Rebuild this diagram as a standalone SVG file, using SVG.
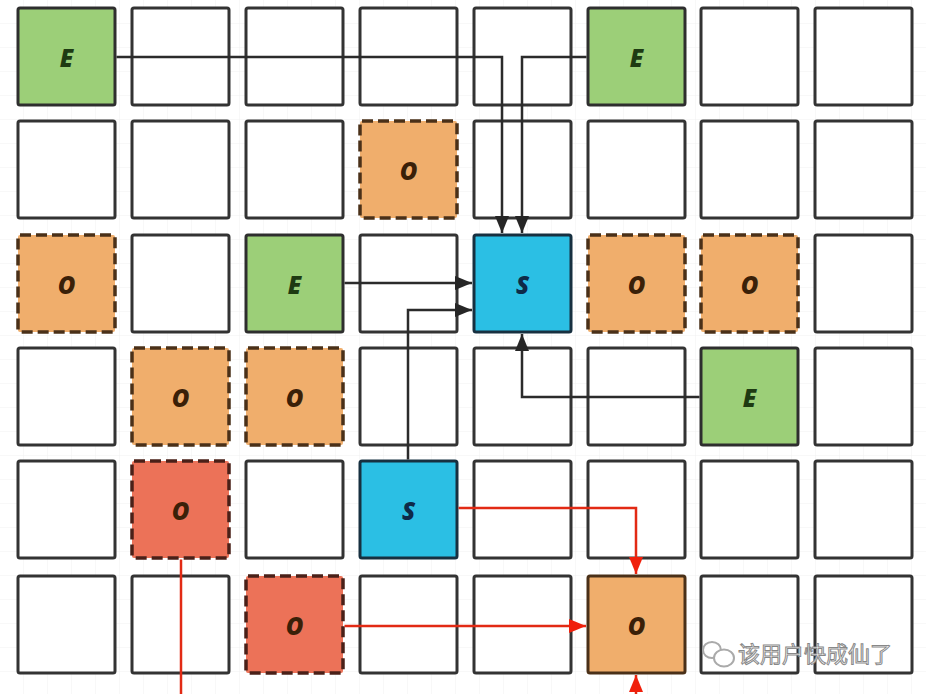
<svg xmlns="http://www.w3.org/2000/svg" width="926" height="694" viewBox="0 0 926 694">
<defs>
<pattern id="bg" width="24" height="24" patternUnits="userSpaceOnUse">
<path d="M24 0V24H0" fill="none" stroke="#f0f0f0" stroke-width="1"/>
</pattern>
<marker id="ab" markerUnits="userSpaceOnUse" markerWidth="18" markerHeight="18" viewBox="0 0 18 18" refX="17" refY="9" orient="auto">
<path d="M0 2L17 9L0 16Z" fill="#262626"/>
</marker>
<marker id="ar" markerUnits="userSpaceOnUse" markerWidth="18" markerHeight="18" viewBox="0 0 18 18" refX="17" refY="9" orient="auto">
<path d="M0 2L17 9L0 16Z" fill="#f0200c"/>
</marker>
</defs>
<style>
.c{fill:#fff;stroke:#333;stroke-width:3}
.g{fill:#9ccf78;stroke:#2e2e2e;stroke-width:3}
.b{fill:#2bbfe4;stroke:#173040;stroke-width:3}
.o{fill:#f0ae6c;stroke:#4a3018;stroke-width:3.5;stroke-dasharray:11 5}
.os{fill:#f0ae6c;stroke:#4a3018;stroke-width:3}
.r{fill:#ec7258;stroke:#4a2018;stroke-width:3.5;stroke-dasharray:11 5}
text.l{font-family:"Open Sans","DejaVu Sans",sans-serif;font-weight:800;font-style:italic;font-size:24px;text-anchor:middle;dominant-baseline:central}
.te{fill:#1e3a12}.ts{fill:#0e2a48}.to{fill:#3a2008}
.k{fill:none;stroke:#2b2b2b;stroke-width:2.5}
.kr{fill:none;stroke:#e22a14;stroke-width:2.5}
</style>
<rect width="926" height="694" fill="#fff"/>
<rect width="926" height="694" fill="url(#bg)"/>
<g id="cells">
<g id="r0c0"><rect class="g" x="18" y="8" width="97" height="97" rx="2"/><text class="l te" x="66.5" y="57">E</text></g>
<g id="r0c1"><rect class="c" x="132" y="8" width="97" height="97" rx="2"/></g>
<g id="r0c2"><rect class="c" x="246" y="8" width="97" height="97" rx="2"/></g>
<g id="r0c3"><rect class="c" x="360" y="8" width="97" height="97" rx="2"/></g>
<g id="r0c4"><rect class="c" x="474" y="8" width="97" height="97" rx="2"/></g>
<g id="r0c5"><rect class="g" x="588" y="8" width="97" height="97" rx="2"/><text class="l te" x="636.5" y="57">E</text></g>
<g id="r0c6"><rect class="c" x="701" y="8" width="97" height="97" rx="2"/></g>
<g id="r0c7"><rect class="c" x="815" y="8" width="97" height="97" rx="2"/></g>

<g id="r1c0"><rect class="c" x="18" y="121" width="97" height="97" rx="2"/></g>
<g id="r1c1"><rect class="c" x="132" y="121" width="97" height="97" rx="2"/></g>
<g id="r1c2"><rect class="c" x="246" y="121" width="97" height="97" rx="2"/></g>
<g id="r1c3"><rect class="o" x="360" y="121" width="97" height="97" rx="2"/><text class="l to" x="408.5" y="170">O</text></g>
<g id="r1c4"><rect class="c" x="474" y="121" width="97" height="97" rx="2"/></g>
<g id="r1c5"><rect class="c" x="588" y="121" width="97" height="97" rx="2"/></g>
<g id="r1c6"><rect class="c" x="701" y="121" width="97" height="97" rx="2"/></g>
<g id="r1c7"><rect class="c" x="815" y="121" width="97" height="97" rx="2"/></g>

<g id="r2c0"><rect class="o" x="18" y="235" width="97" height="97" rx="2"/><text class="l to" x="66.5" y="284">O</text></g>
<g id="r2c1"><rect class="c" x="132" y="235" width="97" height="97" rx="2"/></g>
<g id="r2c2"><rect class="g" x="246" y="235" width="97" height="97" rx="2"/><text class="l te" x="294.5" y="284">E</text></g>
<g id="r2c3"><rect class="c" x="360" y="235" width="97" height="97" rx="2"/></g>
<g id="r2c4"><rect class="b" x="474" y="235" width="97" height="97" rx="2"/><text class="l ts" x="522.5" y="284">S</text></g>
<g id="r2c5"><rect class="o" x="588" y="235" width="97" height="97" rx="2"/><text class="l to" x="636.5" y="284">O</text></g>
<g id="r2c6"><rect class="o" x="701" y="235" width="97" height="97" rx="2"/><text class="l to" x="749.5" y="284">O</text></g>
<g id="r2c7"><rect class="c" x="815" y="235" width="97" height="97" rx="2"/></g>

<g id="r3c0"><rect class="c" x="18" y="348" width="97" height="97" rx="2"/></g>
<g id="r3c1"><rect class="o" x="132" y="348" width="97" height="97" rx="2"/><text class="l to" x="180.5" y="397">O</text></g>
<g id="r3c2"><rect class="o" x="246" y="348" width="97" height="97" rx="2"/><text class="l to" x="294.5" y="397">O</text></g>
<g id="r3c3"><rect class="c" x="360" y="348" width="97" height="97" rx="2"/></g>
<g id="r3c4"><rect class="c" x="474" y="348" width="97" height="97" rx="2"/></g>
<g id="r3c5"><rect class="c" x="588" y="348" width="97" height="97" rx="2"/></g>
<g id="r3c6"><rect class="g" x="701" y="348" width="97" height="97" rx="2"/><text class="l te" x="749.5" y="397">E</text></g>
<g id="r3c7"><rect class="c" x="815" y="348" width="97" height="97" rx="2"/></g>

<g id="r4c0"><rect class="c" x="18" y="461" width="97" height="97" rx="2"/></g>
<g id="r4c1"><rect class="r" x="132" y="461" width="97" height="97" rx="2"/><text class="l to" x="180.5" y="510">O</text></g>
<g id="r4c2"><rect class="c" x="246" y="461" width="97" height="97" rx="2"/></g>
<g id="r4c3"><rect class="b" x="360" y="461" width="97" height="97" rx="2"/><text class="l ts" x="408.5" y="510">S</text></g>
<g id="r4c4"><rect class="c" x="474" y="461" width="97" height="97" rx="2"/></g>
<g id="r4c5"><rect class="c" x="588" y="461" width="97" height="97" rx="2"/></g>
<g id="r4c6"><rect class="c" x="701" y="461" width="97" height="97" rx="2"/></g>
<g id="r4c7"><rect class="c" x="815" y="461" width="97" height="97" rx="2"/></g>

<g id="r5c0"><rect class="c" x="18" y="576" width="97" height="97" rx="2"/></g>
<g id="r5c1"><rect class="c" x="132" y="576" width="97" height="97" rx="2"/></g>
<g id="r5c2"><rect class="r" x="246" y="576" width="97" height="97" rx="2"/><text class="l to" x="294.5" y="625">O</text></g>
<g id="r5c3"><rect class="c" x="360" y="576" width="97" height="97" rx="2"/></g>
<g id="r5c4"><rect class="c" x="474" y="576" width="97" height="97" rx="2"/></g>
<g id="r5c5"><rect class="os" x="588" y="576" width="97" height="97" rx="2"/><text class="l to" x="636.5" y="625">O</text></g>
<g id="r5c6"><rect class="c" x="701" y="576" width="97" height="97" rx="2"/></g>
<g id="r5c7"><rect class="c" x="815" y="576" width="97" height="97" rx="2"/></g>
</g>
<g id="connectors">
<path class="k" d="M116.5 57H502V233" marker-end="url(#ab)"/>
<path class="k" d="M586.5 57H522V233" marker-end="url(#ab)"/>
<path class="k" d="M344.5 283H472" marker-end="url(#ab)"/>
<path class="k" d="M408 459.5V310H472" marker-end="url(#ab)"/>
<path class="k" d="M699.5 397H522V334" marker-end="url(#ab)"/>
<path class="kr" d="M458.5 508H636V574" marker-end="url(#ar)"/>
<path class="kr" d="M344.5 626H586" marker-end="url(#ar)"/>
<path class="kr" d="M181 559.5V694"/>
<path class="kr" d="M636 694V675" marker-end="url(#ar)"/>
</g>
<g id="watermark">
<ellipse cx="712" cy="650" rx="9" ry="8" fill="none" stroke="#aaa" stroke-width="2"/>
<ellipse cx="724" cy="658" rx="10" ry="8.5" fill="#fff" stroke="#aaa" stroke-width="2"/>
<text x="738" y="662" font-family="'Noto Sans CJK SC',sans-serif" font-size="22" fill="#fff" stroke="#888" stroke-width="1">该用户快成仙了</text>
</g>
</svg>
